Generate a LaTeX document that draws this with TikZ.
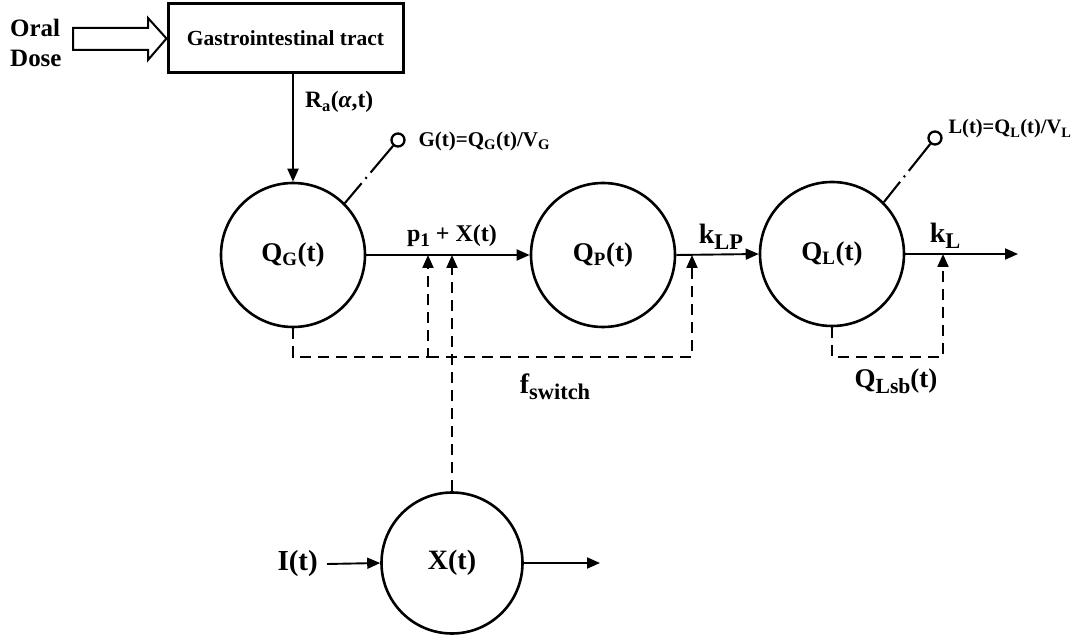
\documentclass[tikz,border=0pt]{standalone}
\usepackage{fontspec}
\setmainfont{Liberation Serif}
\usetikzlibrary{arrows.meta,calc}
\newcommand\bsub[1]{\raisebox{-0.22em}{\scalebox{0.8}{#1}}}
\begin{document}
\begin{tikzpicture}[x=1pt,y=-1pt,
  bigc/.style={circle,draw,line width=2.6pt,minimum size=144pt,inner sep=0pt,font=\fontsize{27}{30}\selectfont\bfseries},
  smallc/.style={circle,draw,line width=2.3pt,minimum size=13pt,inner sep=0pt},
  lbl/.style={font=\fontsize{28}{30}\selectfont\bfseries,inner sep=1pt},
  tip/.style={-{Triangle[length=13pt,width=11pt]}},
  conn/.style={line width=1.9pt},
  dsh/.style={line width=2.1pt,dash pattern=on 11pt off 7pt},
  dashdot/.style={line width=2.1pt,dash pattern=on 26pt off 6pt on 2pt off 6pt on 60pt}]
\useasboundingbox (0,0) rectangle (1085,636);
% Oral dose and GI tract
\node[font=\fontsize{25}{28}\selectfont\bfseries,anchor=base west,inner sep=0pt] (oral) at (10,37) {Oral};
\node[font=\fontsize{25}{28}\selectfont\bfseries,anchor=base west,inner sep=0pt] (dose) at (10,67) {Dose};
\node[draw,line width=3pt,minimum width=235pt,minimum height=69pt,inner sep=0pt,font=\fontsize{21.5}{24}\selectfont\bfseries] (GI) at (285.5,38.5) {Gastrointestinal tract};
\draw[line width=2pt,line join=miter] (73,28) -- (148,28) -- (148,18) -- (GI.west) -- (148,60) -- (148,50) -- (73,50) -- cycle;
% compartments
\node[bigc] (QG) at (293,255) {Q\textsubscript{G}(t)};
\node[bigc] (QP) at (603,255) {Q\textsubscript{P}(t)};
\node[bigc] (QL) at (832,254) {Q\textsubscript{L}(t)};
\node[bigc,minimum size=141pt,font=\fontsize{28}{30}\selectfont\bfseries] (X) at (452,563) {X(t)};
\node[font=\fontsize{29}{30}\selectfont\bfseries,anchor=east,inner xsep=9pt] (I) at (327,564) {I(t)};
% coordinates
\coordinate (fa) at (428,255);
\coordinate (fb) at (452,255);
\coordinate (fc) at (692,255);
\coordinate (fd) at (943,254);
\coordinate (yb) at (0,357);
\coordinate (out1) at (1018,254);
\coordinate (xout) at (600,563);
% solid connectors
\draw[conn,tip] (GI.south -| QG.north) -- (QG.north);
\draw[conn,tip] (QG.east) -- (QP.west);
\draw[conn,tip] (QP.east) -- (QL.west);
\draw[conn,tip] (QL.east) -- (out1);
\draw[conn,tip] (I.east) -- (X.west);
\draw[conn,tip] (X.east) -- (xout);
% dashed
\draw[dsh,tip] (QG.south) |- (fa |- yb) -- (fa);
\draw[dsh,tip] (fa |- yb) -| (fc);
\draw[dsh,tip] (X.north) -- (fb);
\draw[dsh,tip] (QL.south) |- (fd |- yb) -- (fd);
% observation
\node[smallc] (gs) at (398,140) {};
\node[smallc] (ls) at (935,138) {};
\draw[dashdot] (QG.45) -- (gs);
\draw[dashdot] (QL.45) -- (ls);
\node[font=\fontsize{21}{24}\selectfont\bfseries,anchor=west] (Gl) at (415,141) {G(t)=Q\textsubscript{G}(t)/V\textsubscript{G}};
\node[font=\fontsize{20.5}{24}\selectfont\bfseries,anchor=west] (Ll) at (945,129) {L(t)=Q\textsubscript{L}(t)/V\textsubscript{L}};
% labels
\node[font=\fontsize{23.5}{26}\selectfont\bfseries,anchor=west,inner sep=0pt] (Ra) at (305,102) {R\textsubscript{a}(\textit{α},t)};
\node[font=\fontsize{24}{26}\selectfont\bfseries] (p1) at (452,236) {p\bsub{1} + X(t)};
\node[lbl] (klp) at (721,237) {k\bsub{LP}};
\node[lbl] (kl) at (945,236) {k\bsub{L}};
\node[lbl] (fs) at (555,387) {f\bsub{switch}};
\node[lbl,font=\fontsize{27}{30}\selectfont\bfseries] (qlsb) at (896,381) {Q\bsub{Lsb}(t)};
\end{tikzpicture}
\end{document}
